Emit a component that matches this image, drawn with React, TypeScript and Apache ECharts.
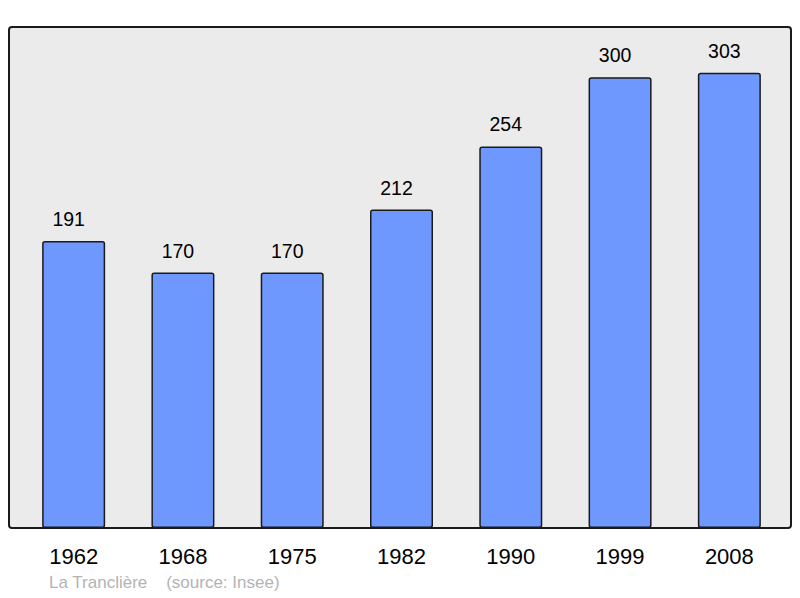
import React, { useEffect, useRef } from "react";
import * as echarts from "echarts";

const years = ["1962", "1968", "1975", "1982", "1990", "1999", "2008"];
const population = [191, 170, 170, 212, 254, 300, 303];
const footerText = "La Tranclière    (source: Insee)";

export default function App() {
  const ref = useRef<HTMLDivElement>(null);
  useEffect(() => {
    document.body.style.margin = "0";
    const chart = echarts.init(ref.current!, null, { renderer: "svg" });
    chart.setOption({
      animation: false,
      backgroundColor: "#ffffff",
      textStyle: { fontFamily: "Liberation Sans, Arial, sans-serif" },
      graphic: [
        {
          type: "rect",
          z: -10,
          shape: { x: 9, y: 27, width: 782, height: 501, r: 3 },
          style: { fill: "#ebebeb", stroke: "#1a1a1a", lineWidth: 2 },
        },
        {
          type: "text",
          x: 49,
          y: 574,
          style: {
            text: footerText,
            fill: "#b3b3b3",
            fontSize: 17,
            fontFamily: "Liberation Sans, Arial, sans-serif",
          },
        },
      ],
      grid: { left: 19, right: 16, top: 27, bottom: 70, containLabel: false },
      xAxis: {
        type: "category",
        data: years,
        axisLine: { show: false },
        axisTick: { show: false },
        axisLabel: {
          fontSize: 22,
          color: "#000",
          margin: 17,
          fontFamily: "Liberation Sans, Arial, sans-serif",
        },
      },
      yAxis: {
        type: "value",
        min: 0,
        max: 333.5,
        show: false,
        splitLine: { show: false },
      },
      series: [
        {
          type: "bar",
          data: population,
          barWidth: 63,
          itemStyle: {
            color: "#6f98ff",
            borderColor: "#1a1a1a",
            borderWidth: 1.5,
            borderRadius: 2,
          },
          label: {
            show: true,
            position: "top",
            distance: 12,
            offset: [-5, 0],
            fontSize: 19.5,
            color: "#000",
            fontFamily: "Liberation Sans, Arial, sans-serif",
          },
        },
      ],
    });
    return () => chart.dispose();
  }, []);
  return <div ref={ref} style={{ width: 800, height: 598 }} />;
}
